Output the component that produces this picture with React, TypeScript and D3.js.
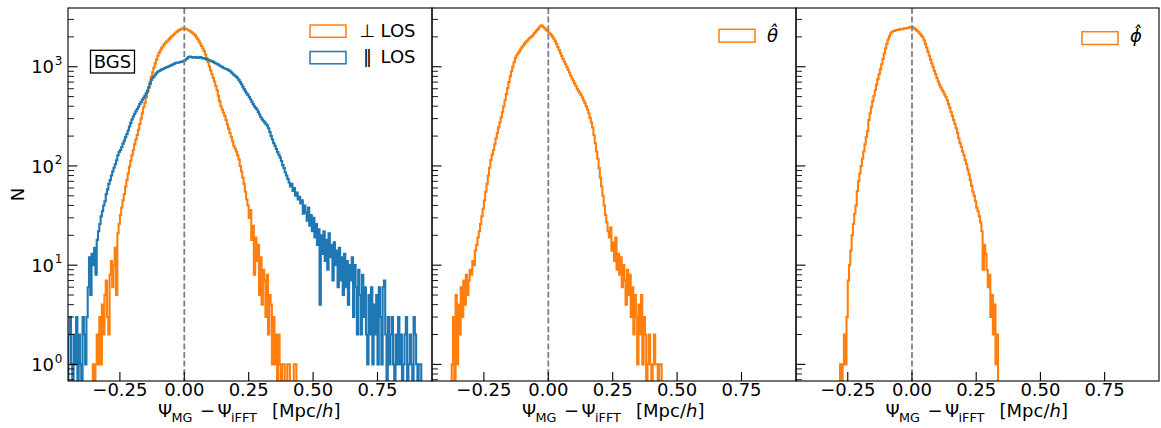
import React from 'react';
import * as d3 from 'd3';

// histogram bin width (Mpc/h) shared by every series
const BIN_W = 0.005;

// panel 1, parallel to the line of sight (blue)
const parStart = -0.45;
const parCounts = [
  2, 3, 1, 0, 2, 1, 3, 0, 2, 1,
  0, 3, 2, 1, 3, 6, 12, 5, 13, 10,
  15, 8, 18, 22, 26, 31, 35, 40, 44, 52,
  58, 66, 72, 80, 88, 96, 104, 114, 128, 138,
  145, 155, 168, 180, 195, 210, 228, 250, 272, 295,
  315, 335, 355, 375, 395, 420, 440, 465, 485, 510,
  540, 575, 620, 670, 735, 770, 800, 830, 860, 890,
  905, 920, 935, 950, 965, 975, 990, 1000, 1015, 1030,
  1045, 1060, 1075, 1090, 1100, 1095, 1110, 1120, 1125, 1140,
  1160, 1190, 1220, 1250, 1270, 1255, 1240, 1235, 1250, 1245,
  1225, 1240, 1250, 1230, 1215, 1225, 1200, 1185, 1175, 1165,
  1150, 1140, 1120, 1100, 1085, 1065, 1050, 1030, 1010, 990,
  975, 960, 950, 940, 925, 905, 880, 855, 830, 810,
  790, 765, 735, 700, 665, 630, 595, 565, 540, 520,
  495, 470, 445, 420, 400, 385, 370, 350, 330, 310,
  295, 285, 275, 265, 255, 240, 220, 200, 185, 170,
  160, 148, 138, 130, 122, 112, 102, 95, 86, 80,
  74, 68, 62, 66, 56, 60, 50, 54, 46, 49,
  42, 45, 33, 40, 34, 28, 38, 25, 32, 22,
  30, 19, 26, 16, 23, 4, 20, 13, 22, 11,
  18, 9, 21, 12, 16, 7, 17, 10, 14, 6,
  15, 7, 12, 5, 13, 6, 11, 4, 10, 7,
  12, 3, 10, 6, 2, 9, 5, 2, 8, 3,
  6, 2, 1, 5, 2, 6, 1, 4, 2, 5,
  1, 6, 3, 1, 6, 7, 2, 0, 3, 1,
  2, 3, 1, 0, 2, 1, 3, 1, 2, 0,
  1, 2, 3, 0, 1, 2, 1, 0, 3, 2,
  1, 0, 1, 1,
];

// panel 1, perpendicular to the line of sight (orange)
const perpStart = -0.355;
const perpCounts = [
  1, 0, 1, 2, 1, 3, 1, 4, 2, 5,
  7, 3, 2, 8, 11, 6, 10, 15, 5, 21,
  26, 32, 38, 45, 52, 62, 72, 84, 98, 113,
  128, 145, 165, 185, 205, 232, 265, 300, 340, 390,
  435, 490, 550, 620, 700, 790, 880, 980, 1080, 1180,
  1290, 1380, 1460, 1540, 1610, 1680, 1740, 1800, 1850, 1910,
  1970, 2030, 2090, 2150, 2210, 2260, 2310, 2350, 2390, 2420,
  2440, 2430, 2400, 2370, 2330, 2290, 2240, 2190, 2130, 2070,
  1990, 1900, 1800, 1710, 1620, 1530, 1440, 1330, 1220, 1110,
  1010, 920, 840, 770, 710, 640, 580, 510, 450, 400,
  370, 345, 320, 290, 262, 238, 215, 195, 178, 160,
  150, 140, 128, 116, 100, 88, 76, 66, 55, 46,
  40, 30, 36, 18, 25, 8, 19, 11, 16, 5,
  12, 4, 9, 7, 3, 8, 2, 5, 4, 1,
  3, 1, 2, 0, 2, 1, 0, 1, 1, 0,
  0, 1, 1, 0, 0, 0, 1, 1,
];

// panel 2, theta direction
const thetaStart = -0.375;
const thetaCounts = [
  1, 3, 0, 5, 1, 4, 2, 6, 3, 7,
  4, 8, 5, 7, 9, 8, 11, 10, 14, 16,
  19, 22, 26, 31, 37, 45, 55, 66, 80, 96,
  115, 130, 145, 165, 190, 215, 245, 275, 310, 350,
  400, 460, 530, 610, 700, 800, 900, 1000, 1110, 1230,
  1300, 1360, 1420, 1490, 1560, 1630, 1700, 1760, 1820, 1880,
  1940, 1990, 2040, 2110, 2190, 2270, 2350, 2430, 2530, 2620,
  2580, 2500, 2420, 2350, 2280, 2210, 2150, 2080, 2000, 1900,
  1800, 1690, 1580, 1470, 1370, 1280, 1200, 1130, 1060, 990,
  930, 870, 810, 760, 720, 680, 640, 600, 570, 545,
  520, 490, 460, 430, 400, 370, 340, 305, 275, 245,
  205, 170, 140, 118, 95, 76, 62, 50, 40, 32,
  27, 22, 19, 24, 14, 17, 11, 19, 9, 13,
  8, 12, 6, 10, 7, 4, 9, 5, 8, 3,
  6, 2, 5, 3, 1, 4, 2, 5, 1, 3,
  2, 0, 1, 2, 1, 0, 1, 2, 1, 1,
  0, 1, 1,
];

// panel 3, phi direction
const phiStart = -0.28;
const phiCounts = [
  1, 0, 1, 2, 1, 3, 7, 10, 14, 20,
  26, 33, 40, 56, 70, 84, 100, 118, 140, 165,
  195, 225, 290, 340, 390, 450, 510, 580, 660, 750,
  840, 940, 1060, 1200, 1360, 1530, 1700, 1880, 2030, 2160,
  2240, 2290, 2300, 2330, 2350, 2350, 2380, 2400, 2390, 2420,
  2440, 2430, 2460, 2480, 2500, 2520, 2510, 2460, 2400, 2340,
  2280, 2220, 2140, 2060, 1980, 1850, 1700, 1560, 1420, 1290,
  1180, 1080, 990, 910, 840, 770, 710, 660, 620, 585,
  555, 525, 495, 460, 420, 385, 350, 320, 290, 265,
  240, 215, 190, 170, 155, 140, 128, 115, 104, 92,
  82, 72, 63, 55, 50, 44, 38, 35, 31, 27,
  22, 9, 16, 13, 9, 6, 8, 3, 5, 2,
  4, 1, 2,
];

const xTicks = [-0.25, 0, 0.25, 0.5, 0.75];
const yMajor = [1, 10, 100, 1000];
const yExponents = ['0', '1', '2', '3'];
const xDomain = [-0.4515, 0.9616];
const yDomain = [0.68, 3908];

const ORANGE = '#ff7f0e';
const BLUE = '#1f77b4';
const FONT = 'DejaVu Sans';
const FS = 18;
const SUB = 12.8;

const TOP = 8;
const BOTTOM = 381;

const panels = [
  {
    left: 68, right: 432, showY: true, legendInset: 86,
    series: [
      { start: perpStart, counts: perpCounts, color: ORANGE, label: '⊥' },
      { start: parStart, counts: parCounts, color: BLUE, label: '‖' },
    ],
  },
  {
    left: 432, right: 796, showY: false, legendInset: 41, legendY: 29.3, textDy: 12.4,
    series: [{ start: thetaStart, counts: thetaCounts, color: ORANGE, label: 'θ\u0302' }],
  },
  {
    left: 796, right: 1159, showY: false, legendInset: 41, legendY: 31.7, textDy: 10.7,
    series: [{ start: phiStart, counts: phiCounts, color: ORANGE, label: 'ϕ\u0302' }],
  },
];

function stepPath(start, counts, x, y, yLow) {
  let d = `M${x(start)},${yLow}`;
  counts.forEach((c, i) => {
    const yy = c > 0 ? y(c) : yLow;
    d += `L${x(start + i * BIN_W)},${yy}L${x(start + (i + 1) * BIN_W)},${yy}`;
  });
  d += `L${x(start + counts.length * BIN_W)},${yLow}`;
  return d;
}

function minorTicks() {
  const out = [];
  for (let e = -1; e <= 3; e++) {
    for (let m = 2; m <= 9; m++) {
      const v = m * Math.pow(10, e);
      if (v > yDomain[0] && v < yDomain[1]) out.push(v);
    }
  }
  return out;
}

function XLabel({ cx }) {
  const base = 417.3;
  const sub = base + 4.4;
  return (
    <text y={base} fontFamily={FONT} fontSize={FS} fill="#000">
      <tspan x={cx - 92} y={base}>Ψ</tspan>
      <tspan x={cx - 78.5} y={sub} fontSize={SUB}>MG</tspan>
      <tspan x={cx - 50} y={base}>−</tspan>
      <tspan x={cx - 32.5} y={base}>Ψ</tspan>
      <tspan x={cx - 19} y={sub} fontSize={SUB}>iFFT</tspan>
      <tspan x={cx + 22} y={base}>[Mpc/</tspan>
      <tspan fontStyle="italic">h</tspan>
      <tspan>]</tspan>
    </text>
  );
}

function Panel({ p, idx }) {
  const x = d3.scaleLinear().domain(xDomain).range([p.left, p.right]);
  const y = d3.scaleLog().domain(yDomain).range([BOTTOM, TOP]);
  const fmt = d3.format('.2f');
  const clipId = `clip${idx}`;
  const rectRight = p.right - p.legendInset;
  const rectLeft = rectRight - 36;

  return (
    <g>
      <defs>
        <clipPath id={clipId}>
          <rect x={p.left} y={TOP} width={p.right - p.left} height={BOTTOM - TOP} />
        </clipPath>
      </defs>

      <g clipPath={`url(#${clipId})`}>
        {p.series.map((s, i) => (
          <path key={i} d={stepPath(s.start, s.counts, x, y, BOTTOM + 20)}
            fill="none" stroke={s.color} strokeWidth={2.1} />
        ))}
        <line x1={x(0)} x2={x(0)} y1={TOP} y2={BOTTOM}
          stroke="gray" strokeWidth={1.8} strokeDasharray="6 2.6" />
      </g>

      {/* ticks point inward */}
      {xTicks.map(t => (
        <g key={t}>
          <line x1={x(t)} x2={x(t)} y1={BOTTOM} y2={BOTTOM - 9} stroke="#000" strokeWidth={1.1} />
          <text x={x(t)} y={395.7} textAnchor="middle" fontFamily={FONT} fontSize={FS}>{fmt(t)}</text>
        </g>
      ))}
      {yMajor.map((t, i) => (
        <g key={t}>
          <line x1={p.left} x2={p.left + 9.5} y1={y(t)} y2={y(t)} stroke="#000" strokeWidth={1.1} />
          {p.showY && (
            <text x={62.5} y={y(t) + 6.6} textAnchor="end" fontFamily={FONT} fontSize={FS}>
              <tspan>10</tspan>
              <tspan fontSize={12} dy={-8.3} dx={0.8}>{yExponents[i]}</tspan>
            </text>
          )}
        </g>
      ))}
      {minorTicks().map(t => (
        <line key={t} x1={p.left} x2={p.left + 6} y1={y(t)} y2={y(t)} stroke="#000" strokeWidth={0.9} />
      ))}

      <rect x={p.left} y={TOP} width={p.right - p.left} height={BOTTOM - TOP}
        fill="none" stroke="#000" strokeWidth={1.1} />

      {/* legend */}
      {idx === 0 && p.series.map((s, i) => (
        <g key={i}>
          <rect x={rectLeft} y={25 + i * 26.5} width={36} height={12.3}
            fill="none" stroke={s.color} strokeWidth={1.5} />
          <text y={36.9 + i * 26.5} fontFamily={FONT} fontSize={FS}>
            <tspan x={i === 0 ? 359.5 : 363}>{s.label}</tspan>
            <tspan x={380.5}>LOS</tspan>
          </text>
        </g>
      ))}
      {idx > 0 && p.series.map((s, i) => (
        <g key={i}>
          <rect x={rectLeft} y={p.legendY} width={36} height={12.8}
            fill="none" stroke={s.color} strokeWidth={1.5} />
          <text x={rectRight + 12} y={p.legendY + p.textDy} fontFamily={FONT} fontSize={FS}
            fontStyle="italic">{s.label}</text>
        </g>
      ))}

      <XLabel cx={(p.left + p.right) / 2} />
    </g>
  );
}

export default function App() {
  return (
    <svg width={1161} height={428} style={{ position: 'absolute', left: 0, top: 0, background: '#fff' }}>
      <rect width={1161} height={428} fill="#fff" />
      {panels.map((p, i) => <Panel key={i} p={p} idx={i} />)}

      <text transform="translate(23.5,194.5) rotate(-90)" textAnchor="middle"
        fontFamily={FONT} fontSize={FS}>N</text>

      <rect x={90.5} y={50.3} width={44} height={22.7} fill="#fff" stroke="#000" strokeWidth={1.3} />
      <text x={112.5} y={67.5} textAnchor="middle" fontFamily={FONT} fontSize={FS}>BGS</text>
    </svg>
  );
}
